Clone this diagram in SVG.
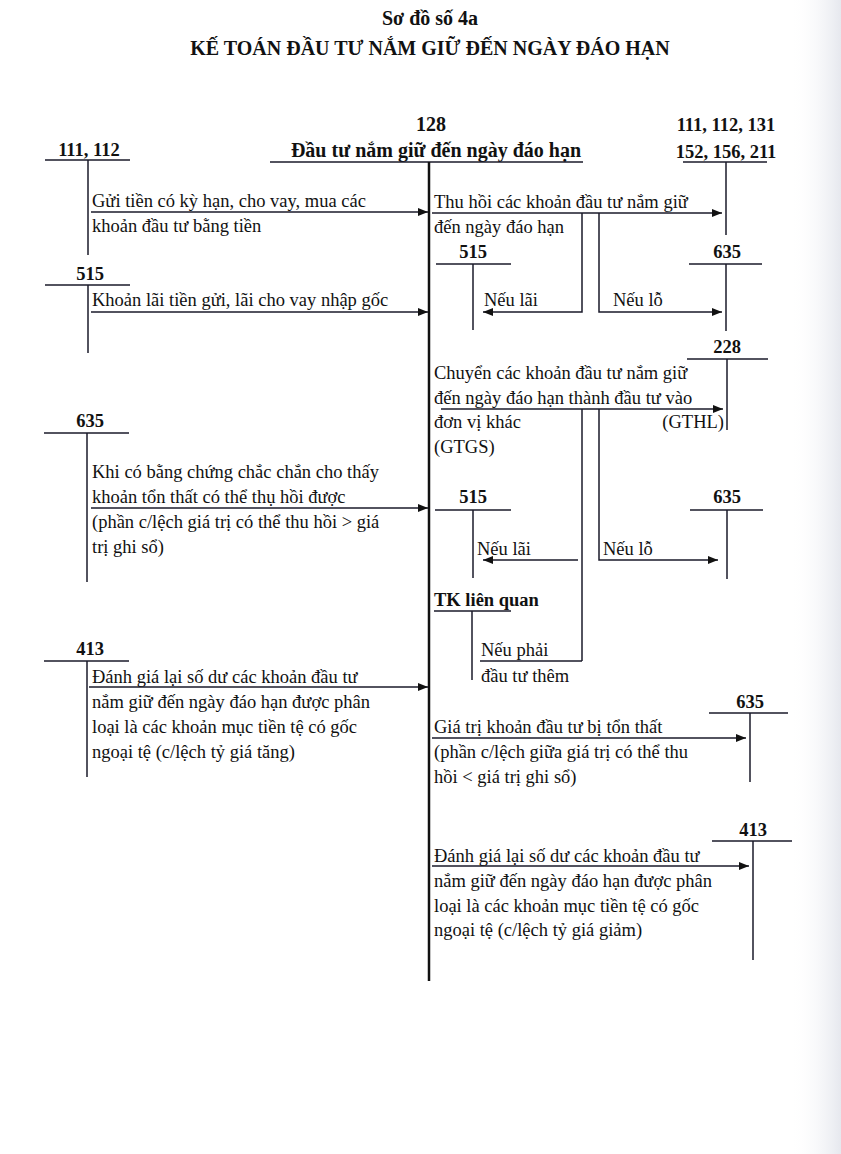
<svg xmlns="http://www.w3.org/2000/svg" width="841" height="1154" viewBox="0 0 841 1154">
<defs>
<marker id="ah" viewBox="0 0 10 8" refX="10" refY="4" markerWidth="10" markerHeight="8" markerUnits="userSpaceOnUse" orient="auto"><path d="M0,0 L10,4 L0,8 z" fill="#111"/></marker>
<linearGradient id="edge" x1="0" x2="1" y1="0" y2="0"><stop offset="0" stop-color="#fff" stop-opacity="0"/><stop offset="1" stop-color="#e6e8ee"/></linearGradient>
<style>
.t{font-family:"Liberation Serif","Times New Roman",serif;font-size:18.5px;fill:#111}
.b{font-family:"Liberation Serif","Times New Roman",serif;font-size:18.5px;font-weight:bold;fill:#111}
.h{font-family:"Liberation Serif","Times New Roman",serif;font-size:20px;font-weight:bold;fill:#111}
.ln{stroke:#1a1a2a;stroke-width:1.5;fill:none}
.ar{stroke:#1a1a2a;stroke-width:1.5;fill:none;marker-end:url(#ah)}
.main{stroke:#111;stroke-width:2.5;fill:none}
</style>
</defs>
<rect width="841" height="1154" fill="#fff"/>
<rect x="790" y="0" width="51" height="1154" fill="url(#edge)"/>

<g id="title">
<text class="h" x="430" y="25" text-anchor="middle">Sơ đồ số 4a</text>
<text class="h" x="430" y="55" text-anchor="middle">KẾ TOÁN ĐẦU TƯ NẮM GIỮ ĐẾN NGÀY ĐÁO HẠN</text>
</g>

<g id="acc128">
<text class="h" x="431" y="131" text-anchor="middle">128</text>
<text class="h" x="436" y="157" text-anchor="middle">Đầu tư nắm giữ đến ngày đáo hạn</text>
<line class="ln" x1="270" y1="162" x2="583" y2="162"/>
<line class="main" x1="429" y1="162" x2="429" y2="981"/>
</g>

<g id="acc111L">
<text class="b" x="89" y="156" text-anchor="middle">111, 112</text>
<line class="ln" x1="45" y1="160" x2="130" y2="160"/>
<line class="ln" x1="88" y1="160" x2="88" y2="255"/>
</g>

<g id="acc515L">
<text class="b" x="90" y="280" text-anchor="middle">515</text>
<line class="ln" x1="45" y1="285" x2="130" y2="285"/>
<line class="ln" x1="88" y1="285" x2="88" y2="353"/>
</g>

<g id="acc635L">
<text class="b" x="90" y="427" text-anchor="middle">635</text>
<line class="ln" x1="44" y1="433" x2="129" y2="433"/>
<line class="ln" x1="87" y1="433" x2="87" y2="582"/>
</g>

<g id="acc413L">
<text class="b" x="90" y="655" text-anchor="middle">413</text>
<line class="ln" x1="44" y1="661" x2="129" y2="661"/>
<line class="ln" x1="87" y1="661" x2="87" y2="777"/>
</g>

<g id="acc111R">
<text class="b" x="726" y="131" text-anchor="middle">111, 112, 131</text>
<text class="b" x="726" y="158" text-anchor="middle">152, 156, 211</text>
<line class="ln" x1="683" y1="162" x2="767" y2="162"/>
<line class="ln" x1="726" y1="162" x2="726" y2="235"/>
</g>

<g id="acc515a">
<text class="b" x="473" y="258" text-anchor="middle">515</text>
<line class="ln" x1="436" y1="264" x2="511" y2="264"/>
<line class="ln" x1="473" y1="264" x2="473" y2="330"/>
</g>

<g id="acc635a">
<text class="b" x="727" y="258" text-anchor="middle">635</text>
<line class="ln" x1="689" y1="264" x2="762" y2="264"/>
<line class="ln" x1="726" y1="264" x2="726" y2="331"/>
</g>

<g id="acc228">
<text class="b" x="727" y="353" text-anchor="middle">228</text>
<line class="ln" x1="687" y1="359" x2="768" y2="359"/>
<line class="ln" x1="727" y1="359" x2="727" y2="430"/>
</g>

<g id="acc515b">
<text class="b" x="473" y="503" text-anchor="middle">515</text>
<line class="ln" x1="435" y1="510" x2="511" y2="510"/>
<line class="ln" x1="473" y1="510" x2="473" y2="578"/>
</g>

<g id="acc635b">
<text class="b" x="727" y="503" text-anchor="middle">635</text>
<line class="ln" x1="690" y1="510" x2="763" y2="510"/>
<line class="ln" x1="727" y1="510" x2="727" y2="579"/>
</g>

<g id="accTK">
<text class="b" x="434" y="606">TK liên quan</text>
<line class="ln" x1="434" y1="611" x2="511" y2="611"/>
<line class="ln" x1="472" y1="611" x2="472" y2="680"/>
</g>

<g id="acc635c">
<text class="b" x="750" y="708" text-anchor="middle">635</text>
<line class="ln" x1="709" y1="713" x2="788" y2="713"/>
<line class="ln" x1="750" y1="713" x2="750" y2="782"/>
</g>

<g id="acc413R">
<text class="b" x="753" y="836" text-anchor="middle">413</text>
<line class="ln" x1="712" y1="841" x2="792" y2="841"/>
<line class="ln" x1="753" y1="841" x2="753" y2="960"/>
</g>

<g id="connectors">
<line class="ar" x1="91" y1="212" x2="428" y2="212"/>
<line class="ar" x1="91" y1="312" x2="428" y2="312"/>
<line class="ar" x1="91" y1="508" x2="428" y2="508"/>
<line class="ar" x1="89" y1="687" x2="428" y2="687"/>
<line class="ar" x1="432" y1="213" x2="722" y2="213"/>
<polyline class="ar" points="582,213 582,312 483,312"/>
<polyline class="ar" points="599,213 599,312 722,312"/>
<line class="ar" x1="441" y1="409" x2="723" y2="409"/>
<line class="ln" x1="582" y1="409" x2="582" y2="661"/>
<line class="ar" x1="578" y1="560" x2="483" y2="560"/>
<polyline class="ar" points="599,409 599,560 718,560"/>
<line class="ln" x1="582" y1="661" x2="480" y2="661"/>
<line class="ar" x1="432" y1="738" x2="746" y2="738"/>
<line class="ar" x1="432" y1="866" x2="749" y2="866"/>
</g>

<g id="labels">
<text class="t" x="92" y="207">Gửi tiền có kỳ hạn, cho vay, mua các</text>
<text class="t" x="92" y="232">khoản đầu tư bằng tiền</text>
<text class="t" x="92" y="306">Khoản lãi tiền gửi, lãi cho vay nhập gốc</text>
<text class="t" x="92" y="478">Khi có bằng chứng chắc chắn cho thấy</text>
<text class="t" x="92" y="503">khoản tổn thất có thể thụ hồi được</text>
<text class="t" x="92" y="528">(phần c/lệch giá trị có thể thu hồi &gt; giá</text>
<text class="t" x="92" y="553">trị ghi sổ)</text>
<text class="t" x="92" y="683">Đánh giá lại số dư các khoản đầu tư</text>
<text class="t" x="92" y="708">nắm giữ đến ngày đáo hạn được phân</text>
<text class="t" x="92" y="733">loại là các khoản mục tiền tệ có gốc</text>
<text class="t" x="92" y="758">ngoại tệ (c/lệch tỷ giá tăng)</text>

<text class="t" x="434" y="208">Thu hồi các khoản đầu tư nắm giữ</text>
<text class="t" x="434" y="233">đến ngày đáo hạn</text>
<text class="t" x="484" y="306">Nếu lãi</text>
<text class="t" x="613" y="306">Nếu lỗ</text>
<text class="t" x="434" y="379">Chuyển các khoản đầu tư nắm giữ</text>
<text class="t" x="434" y="404">đến ngày đáo hạn thành đầu tư vào</text>
<text class="t" x="434" y="428">đơn vị khác</text>
<text class="t" x="434" y="453">(GTGS)</text>
<text class="t" x="724" y="428" text-anchor="end">(GTHL)</text>
<text class="t" x="477" y="555">Nếu lãi</text>
<text class="t" x="603" y="555">Nếu lỗ</text>
<text class="t" x="481" y="656">Nếu phải</text>
<text class="t" x="481" y="682">đầu tư thêm</text>
<text class="t" x="434" y="733">Giá trị khoản đầu tư bị tổn thất</text>
<text class="t" x="434" y="758">(phần c/lệch giữa giá trị có thể thu</text>
<text class="t" x="434" y="783">hồi &lt; giá trị ghi sổ)</text>
<text class="t" x="434" y="862">Đánh giá lại số dư các khoản đầu tư</text>
<text class="t" x="434" y="887">nắm giữ đến ngày đáo hạn được phân</text>
<text class="t" x="434" y="912">loại là các khoản mục tiền tệ có gốc</text>
<text class="t" x="434" y="936">ngoại tệ (c/lệch tỷ giá giảm)</text>
</g>
</svg>
